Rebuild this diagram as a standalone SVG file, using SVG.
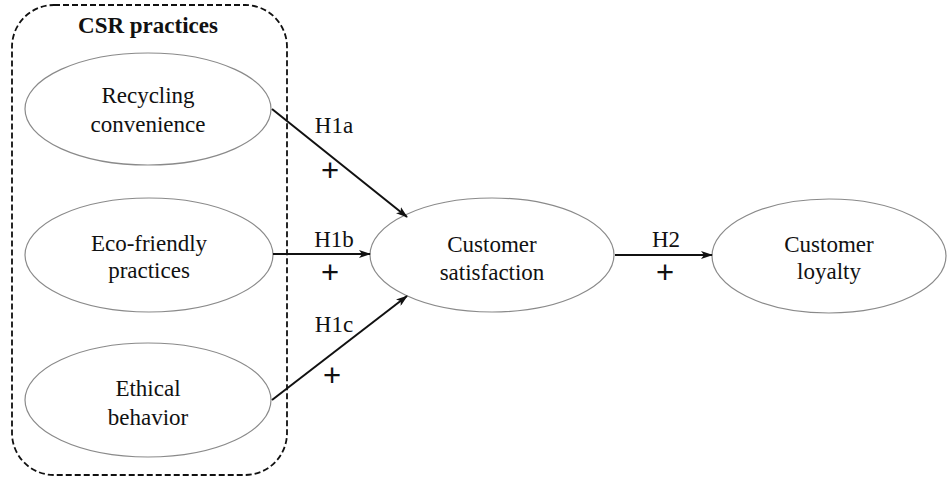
<svg xmlns="http://www.w3.org/2000/svg" width="948" height="478" viewBox="0 0 948 478">
<style>
.node ellipse{fill:#fff;stroke:#8a8a8a;stroke-width:1.2}
.t{font-family:"Liberation Serif","Times New Roman",serif;font-size:23px;fill:#111;text-anchor:middle}
.h{font-family:"Liberation Serif","Times New Roman",serif;font-size:23px;fill:#111;text-anchor:middle}
.p{font-family:"Liberation Sans",Arial,sans-serif;font-size:31px;fill:#111;text-anchor:middle}
.c line{stroke:#111;stroke-width:2;marker-end:url(#a)}
</style>
<defs>
<marker id="a" viewBox="0 0 12 8" refX="11" refY="4" markerWidth="12" markerHeight="8" markerUnits="userSpaceOnUse" orient="auto">
<path d="M0,0 L12,4 L0,8 L3,4 Z" fill="#111"/>
</marker>
</defs>
<g id="csr-group">
<rect x="12" y="5" width="275" height="470" rx="42" ry="42" fill="none" stroke="#111" stroke-width="1.8" stroke-dasharray="6,3"/>
<text class="t" x="148" y="33" font-weight="bold" font-size="24">CSR practices</text>
</g>
<g id="recycling" class="node">
<ellipse cx="148" cy="109" rx="123" ry="56"/>
<text class="t" x="148" y="103">Recycling</text>
<text class="t" x="148" y="132">convenience</text>
</g>
<g id="eco" class="node">
<ellipse cx="149" cy="255" rx="124" ry="57"/>
<text class="t" x="149" y="251">Eco-friendly</text>
<text class="t" x="149" y="278">practices</text>
</g>
<g id="ethical" class="node">
<ellipse cx="148" cy="400" rx="123" ry="57"/>
<text class="t" x="148" y="396">Ethical</text>
<text class="t" x="148" y="425">behavior</text>
</g>
<g id="satisfaction" class="node">
<ellipse cx="492" cy="255" rx="122" ry="57"/>
<text class="t" x="492" y="252">Customer</text>
<text class="t" x="492" y="280">satisfaction</text>
</g>
<g id="loyalty" class="node">
<ellipse cx="829" cy="256" rx="117" ry="57"/>
<text class="t" x="829" y="252">Customer</text>
<text class="t" x="829" y="279">loyalty</text>
</g>
<g id="connectors" class="c">
<line x1="272" y1="109" x2="407" y2="217"/>
<line x1="273" y1="254" x2="370" y2="254"/>
<line x1="272" y1="400" x2="407" y2="296"/>
<line x1="615" y1="255" x2="712" y2="255"/>
</g>
<g id="labels">
<text class="h" x="334" y="133">H1a</text>
<text class="p" x="330" y="181">+</text>
<text class="h" x="334" y="247">H1b</text>
<text class="p" x="330" y="283">+</text>
<text class="h" x="334" y="332">H1c</text>
<text class="p" x="332" y="386">+</text>
<text class="h" x="666" y="247">H2</text>
<text class="p" x="665" y="283">+</text>
</g>
</svg>
